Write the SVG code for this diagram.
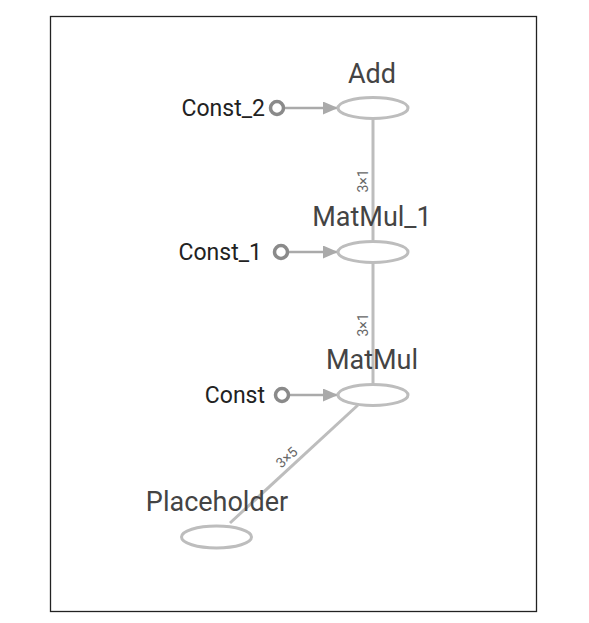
<svg xmlns="http://www.w3.org/2000/svg" width="589" height="623" viewBox="0 0 589 623">
<style>
.op{fill:#fff;stroke:#bdbdbd;stroke-width:3}
.cst{fill:#fff;stroke:#8a8a8a;stroke-width:3.5}
.edge{stroke:#bdbdbd;stroke-width:3;fill:none}
.cedge{stroke:#aaaaaa;stroke-width:2.5;fill:none}
.lbl{font-family:Roboto,"Liberation Sans",sans-serif;font-size:27px;fill:#444;text-anchor:middle}
.clbl{font-family:Roboto,"Liberation Sans",sans-serif;font-size:23px;fill:#222;text-anchor:end}
.elbl{font-family:Roboto,"Liberation Sans",sans-serif;font-size:14px;fill:#666;text-anchor:middle}
</style>
<defs>
<marker id="arr" markerWidth="15" markerHeight="13" refX="14" refY="6.5" orient="auto" markerUnits="userSpaceOnUse">
<path d="M0,0 L15,6.5 L0,13 z" fill="#aaaaaa"/>
</marker>
</defs>
<rect x="50.5" y="16.5" width="486" height="595" fill="#fff" stroke="#222" stroke-width="1.3"/>
<g id="connectors">
<line class="edge" x1="373" y1="119" x2="373" y2="240"/>
<line class="edge" x1="373" y1="263" x2="373" y2="384"/>
<line class="edge" x1="358" y1="405" x2="230" y2="523"/>
<line class="cedge" x1="285" y1="108" x2="337" y2="108" marker-end="url(#arr)"/>
<line class="cedge" x1="289" y1="252" x2="337" y2="252" marker-end="url(#arr)"/>
<line class="cedge" x1="290" y1="395" x2="337" y2="395" marker-end="url(#arr)"/>
<text class="elbl" transform="translate(368,181) rotate(-90)">3×1</text>
<text class="elbl" transform="translate(368,325) rotate(-90)">3×1</text>
<text class="elbl" transform="translate(290,461) rotate(-42)">3×5</text>
</g>
<g id="Add">
<ellipse class="op" cx="373" cy="108" rx="35" ry="10.5"/>
<text class="lbl" x="372" y="83">Add</text>
</g>
<g id="Const_2">
<circle class="cst" cx="277" cy="108" r="6.5"/>
<text class="clbl" x="265" y="116">Const_2</text>
</g>
<g id="Const_1">
<circle class="cst" cx="281" cy="252" r="6.5"/>
<text class="clbl" x="262" y="260">Const_1</text>
</g>
<g id="MatMul_1">
<ellipse class="op" cx="373" cy="252" rx="35" ry="10.5"/>
<text class="lbl" x="372" y="226">MatMul_1</text>
</g>
<g id="MatMul">
<ellipse class="op" cx="373" cy="395" rx="35" ry="10.5"/>
<text class="lbl" x="372" y="369">MatMul</text>
</g>
<g id="Const">
<circle class="cst" cx="282" cy="395" r="6.5"/>
<text class="clbl" x="265" y="403">Const</text>
</g>
<g id="Placeholder">
<ellipse class="op" cx="216.5" cy="537" rx="35" ry="11"/>
<text class="lbl" x="217" y="511">Placeholder</text>
</g>
</svg>
